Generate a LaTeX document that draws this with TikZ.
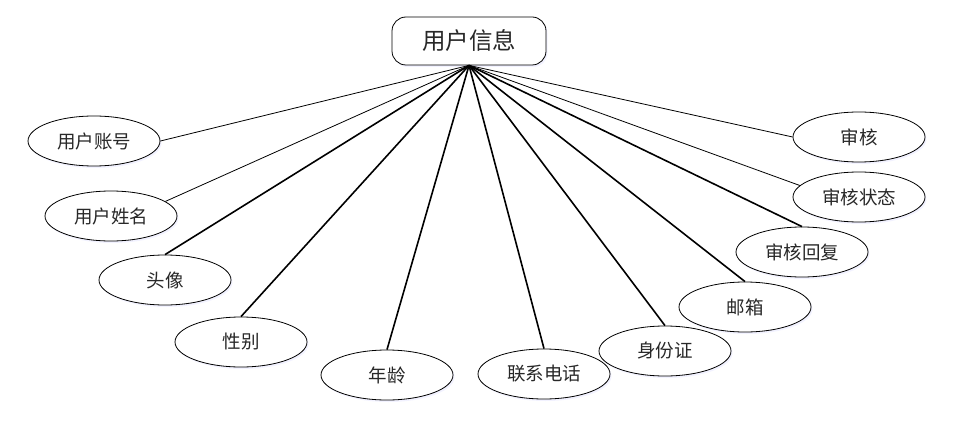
\documentclass[tikz,border=0pt]{standalone}
\usepackage{fontspec}
\setmainfont{Noto Sans CJK SC}
\usetikzlibrary{shapes.geometric,shadows}
\definecolor{txt}{RGB}{40,40,40}
\begin{document}
\begin{tikzpicture}[x=1pt,y=-1pt,
  attr/.style={ellipse,draw=black,line width=0.8pt,fill=white,minimum width=132pt,minimum height=50pt,inner sep=0pt,
    font=\fontsize{18.5}{18.5}\selectfont,text=txt,
    drop shadow={shadow xshift=1.5pt,shadow yshift=-2pt,opacity=0.25,fill=blue!20}},
  ent/.style={rectangle,rounded corners=14pt,draw=black,line width=0.8pt,fill=white,minimum width=154pt,minimum height=48pt,inner sep=0pt,
    font=\fontsize{23.5}{23.5}\selectfont,text=txt,
    drop shadow={shadow xshift=1.5pt,shadow yshift=-2pt,opacity=0.25,fill=blue!20}},
  thin/.style={line width=0.8pt},
  bold/.style={line width=1.6pt}]
\useasboundingbox (0,0) rectangle (968,422);
\node[ent] (top) at (469,41) {用户信息};
\node[attr] (e1) at (94,141) {用户账号};
\node[attr] (e2) at (111,216) {用户姓名};
\node[attr] (e3) at (165,280) {头像};
\node[attr] (e4) at (241,342) {性别};
\node[attr] (e5) at (387,375) {年龄};
\node[attr] (e6) at (544,374) {联系电话};
\node[attr] (e7) at (665,351) {身份证};
\node[attr] (e8) at (745,307) {邮箱};
\node[attr] (e9) at (802,252) {审核回复};
\node[attr] (e10) at (859,197) {审核状态};
\node[attr] (e11) at (859,137) {审核};
\draw[thin] (top.south) -- (e1.east);
\draw[thin] (top.south) -- (e2.15);
\draw[bold] (top.south) -- (e3.north);
\draw[bold] (top.south) -- (e4.north);
\draw[bold] (top.south) -- (e5.north);
\draw[bold] (top.south) -- (e6.north);
\draw[bold] (top.south) -- (e7.north);
\draw[bold] (top.south) -- (e8.north);
\draw[bold] (top.south) -- (e9.north);
\draw[thin] (top.south) -- (e10.169);
\draw[thin] (top.south) -- (e11.west);
\end{tikzpicture}
\end{document}
